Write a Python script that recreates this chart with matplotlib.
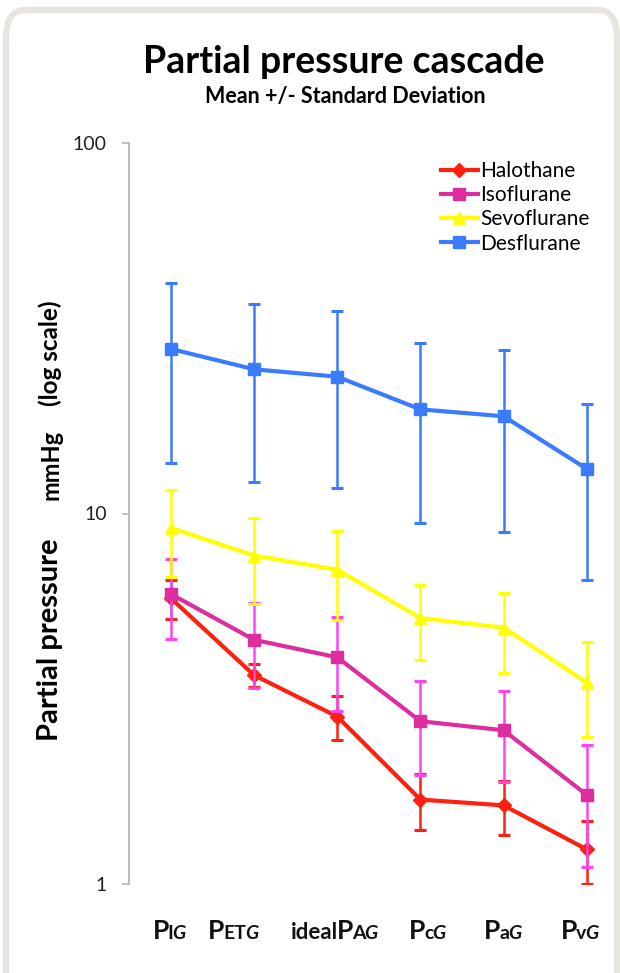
import matplotlib
matplotlib.use("Agg")
import matplotlib.pyplot as plt
from matplotlib.offsetbox import TextArea, HPacker, AnnotationBbox
from matplotlib.patches import FancyBboxPatch
from matplotlib.lines import Line2D
import numpy as np

plt.rcParams['font.family'] = ['Lato', 'DejaVu Sans']

# ---- data ----
categories = ["PIG", "PETG", "idealPAG", "PcG", "PaG", "PvG"]
# label parts: (text, size-role, style)
label_parts = [
    [("P", "big", "normal"), ("I", "small", "normal"), ("G", "small", "italic")],
    [("P", "big", "normal"), ("ET", "small", "normal"), ("G", "small", "italic")],
    [("ideal", "mid", "normal"), ("P", "big", "normal"), ("A", "small", "normal"), ("G", "small", "italic")],
    [("P", "big", "normal"), ("c", "small", "normal"), ("G", "small", "italic")],
    [("P", "big", "normal"), ("a", "small", "normal"), ("G", "small", "italic")],
    [("P", "big", "normal"), ("v", "small", "normal"), ("G", "small", "italic")],
]

series_names = ["Halothane", "Isoflurane", "Sevoflurane", "Desflurane"]
halothane_mean = [5.9, 3.66, 2.83, 1.69, 1.63, 1.24]
halothane_sd = [0.7, 0.26, 0.38, 0.29, 0.27, 0.24]
isoflurane_mean = [6.06, 4.56, 4.09, 2.75, 2.60, 1.74]
isoflurane_sd = [1.48, 1.17, 1.16, 0.78, 0.72, 0.63]
sevoflurane_mean = [9.14, 7.7, 7.05, 5.22, 4.92, 3.5]
sevoflurane_sd = [2.4, 2.0, 1.9, 1.2, 1.2, 1.0]
desflurane_mean = [27.8, 24.5, 23.4, 19.1, 18.3, 13.2]
desflurane_sd = [14.1, 12.3, 11.7, 9.7, 9.4, 6.6]

yticks = [1, 10, 100]

# ---- figure ----
W, H = 620, 973
fig = plt.figure(figsize=(W / 100, H / 100), dpi=100)
fig.patch.set_facecolor("white")

# rounded frame
frame = FancyBboxPatch((6 / W, -0.2), (W - 9) / W, 1.2 - 10 / H,
                       boxstyle="round,pad=0,rounding_size=0.03",
                       transform=fig.transFigure, fill=False,
                       edgecolor="#E8E5DF", linewidth=4.5)
fig.patches.append(frame)

ax = fig.add_axes([129 / W, (H - 884) / H, (W - 129) / W, (884 - 143) / H])
ax.set_yscale("log")
ax.set_ylim(1, 100)
x = np.arange(len(categories))
ax.set_xlim(-0.505, 5.4)

specs = [
    (halothane_mean, halothane_sd, "#FF2010", "D", 7, "#FF2010"),
    (isoflurane_mean, isoflurane_sd, "#DC2E9E", "s", 9, "#FF44F4"),
    (sevoflurane_mean, sevoflurane_sd, "#FFFF00", "^", 9, "#FFFF00"),
    (desflurane_mean, desflurane_sd, "#3B7BFF", "s", 9, "#3B7BFF"),
]
handles = []
for i, (m, sd, col, mk, ms, ecol) in enumerate(specs):
    cont = ax.errorbar(x, m, yerr=sd, color=col, ecolor=ecol, marker=mk,
                       markersize=ms, linewidth=3.0, elinewidth=1.8,
                       capsize=4.5, capthick=2.2, zorder=3 + i)
    line, caplines, barcols = cont.lines
    if series_names[i] == "Isoflurane":
        caplines[0].set_color("#E8309A")
        caplines[1].set_color("#FF2A2A")
    if series_names[i] == "Halothane":
        cols = ["#2A9BE0"] + ["#FF2010"] * (len(x) - 1)
        barcols[0].set_colors(cols)
    handles.append(Line2D([], [], color=col, marker=mk, markersize=ms,
                          linewidth=3.0, label=series_names[i]))

# axes styling
for s in ["top", "right", "bottom"]:
    ax.spines[s].set_visible(False)
ax.spines["left"].set_color("#B5B5B5")
ax.spines["left"].set_linewidth(1.3)
ax.set_yticks(yticks)
ax.set_yticklabels([str(t) for t in yticks])
ax.yaxis.set_minor_locator(matplotlib.ticker.NullLocator())
ax.tick_params(axis="y", which="major", length=5, width=1.2, color="#B5B5B5",
               labelsize=14, labelcolor="#222222", pad=11)
ax.set_xticks([])

# x tick labels built from parts
sizes = {"big": 19, "mid": 16, "small": 14}
offsets_px = [-2, -21, -3, 7, -1, -7]
for i, parts in enumerate(label_parts):
    children = [TextArea(t, textprops=dict(fontsize=sizes[r], fontweight="bold",
                                           fontstyle=st, color="#111111"))
                for (t, r, st) in parts]
    box = HPacker(children=children, align="baseline", pad=0, sep=-1)
    ab = AnnotationBbox(box, (x[i], 0), xycoords=("data", "axes fraction"),
                        xybox=(offsets_px[i] * 0.72, -34), boxcoords="offset points",
                        frameon=False, box_alignment=(0.5, 0.5),
                        annotation_clip=False)
    ax.add_artist(ab)

# legend
leg = fig.legend(handles=handles, loc="upper right",
                 bbox_to_anchor=(590 / W, 1 - 161 / H), bbox_transform=fig.transFigure,
                 frameon=False, fontsize=15, handlelength=1.75, handletextpad=0.15,
                 labelspacing=0.2, borderaxespad=0, borderpad=0)

# titles
fig.text(344 / W, 1 - 73 / H, "Partial pressure cascade", ha="center",
         va="baseline", fontsize=27, fontweight="bold", color="#000000")
fig.text(345 / W, 1 - 103 / H, "Mean +/- Standard Deviation", ha="center",
         va="baseline", fontsize=15.5, fontweight="bold", color="#000000")

# y label (rotated pieces)
bx = 58 / W
fig.text(bx, 1 - 741 / H, "Partial pressure", rotation=90, rotation_mode="anchor",
         ha="left", va="baseline", fontsize=21, fontweight="bold")
fig.text(bx, 1 - 500 / H, "mmHg", rotation=90, rotation_mode="anchor",
         ha="left", va="baseline", fontsize=17, fontweight="bold")
fig.text(bx, 1 - 406 / H, "(log scale)", rotation=90, rotation_mode="anchor",
         ha="left", va="baseline", fontsize=17.5, fontweight="bold")

fig.savefig("out.png", dpi=100, facecolor="white")
